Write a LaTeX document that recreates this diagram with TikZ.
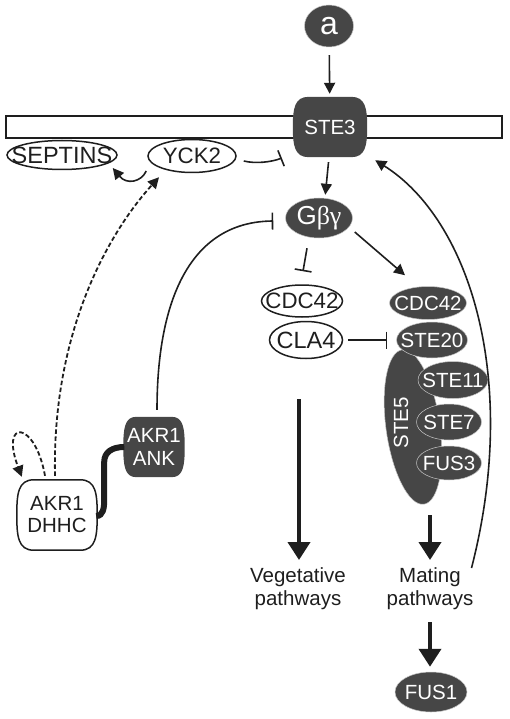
\documentclass[tikz,border=0pt]{standalone}
\usepackage{fontspec}
\setmainfont{Liberation Sans}
\newfontfamily\greekserif{Liberation Serif}
\usetikzlibrary{arrows.meta,shapes.geometric,calc,backgrounds}
\definecolor{dg}{RGB}{70,70,70}
\definecolor{ink}{RGB}{30,30,30}
\newcommand\mybarrel[4]{%
\path[#2] ($(#1.north east)+(-#4,0)$)
 .. controls ($(#1.north east)+(#3*0.6,0)$) and ($(#1.north east)!0.4!(#1.east)+(#3,0)$) .. ($(#1.east)+(#3,0)$)
 .. controls ($(#1.south east)!0.4!(#1.east)+(#3,0)$) and ($(#1.south east)+(#3*0.6,0)$) .. ($(#1.south east)+(-#4,0)$)
 -- ($(#1.south west)+(#4,0)$)
 .. controls ($(#1.south west)+(-#3*0.6,0)$) and ($(#1.south west)!0.4!(#1.west)+(-#3,0)$) .. ($(#1.west)+(-#3,0)$)
 .. controls ($(#1.north west)!0.4!(#1.west)+(-#3,0)$) and ($(#1.north west)+(-#3*0.6,0)$) .. ($(#1.north west)+(#4,0)$)
 -- cycle;}
\tikzset{
 lab/.style={font=\fontsize{20.5}{23}\selectfont, align=center, inner sep=0pt, text=ink},
 ell/.style={lab, ellipse, inner xsep=-30pt, inner ysep=-12pt},
 dk/.style={ell, fill=dg, text=white, draw=white!70!dg, line width=0.5pt},
 lt/.style={ell, draw=ink, line width=1.5pt, font=\fontsize{22.3}{23}\selectfont},
 bx/.style={lab, rectangle},
 conn/.style={line width=1.6pt, draw=ink},
 arr/.style={conn, -{Triangle[length=11pt,width=11pt]}},
 inh/.style={conn, -{Bar[width=17pt,line width=1.6pt]}},
 dsh/.style={arr, line width=1.8pt, dash pattern=on 4.5pt off 2.5pt},
 big/.style={line width=4pt, draw=ink, -{Triangle[length=18pt,width=22pt]}},
}
\begin{document}
\begin{tikzpicture}[x=1pt,y=-1pt]
\useasboundingbox (0,0) rectangle (509,719);
% nodes
\node[dk, minimum width=49pt, minimum height=42pt, font=\fontsize{32}{32}\selectfont] (a) at (329,26) {a};
\node[bx, text=white, minimum width=66pt, minimum height=60pt] (ste3) at (330,127) {STE3};
\node[lt, minimum width=110pt, minimum height=29pt, font=\fontsize{23.5}{24}\selectfont] (sept) at (62,155) {SEPTINS};
\node[lt, minimum width=88pt, minimum height=33pt] (yck2) at (192,156) {YCK2};
\node[dk, minimum width=67pt, minimum height=40pt, font=\fontsize{26}{26}\selectfont] (gbg) at (319,218) {G{\greekserif βγ}};
\node[lt, minimum width=81pt, minimum height=32pt] (cdcw) at (302,301) {CDC42};
\node[lt, minimum width=73pt, minimum height=37pt, font=\fontsize{23.5}{24}\selectfont] (cla4) at (306,340) {CLA4};
\node[dk, minimum width=77pt, minimum height=33pt] (cdcd) at (428,303) {CDC42};
\node[dk, minimum width=156pt, minimum height=54pt, rotate=98] (ste5) at (413,427) {};
\node[lab, text=white, rotate=90] (ste5t) at (401,423) {STE5};
\node[dk, minimum width=71pt, minimum height=36pt] (ste20) at (432,340) {STE20};
\node[dk, minimum width=70pt, minimum height=37pt] (ste11) at (453,380) {STE11};
\node[dk, minimum width=65pt, minimum height=36pt] (ste7) at (449,422) {STE7};
\node[dk, minimum width=65pt, minimum height=34pt] (fus3) at (449,463) {FUS3};
\node[bx, text=white, minimum width=55pt, minimum height=60pt] (ank) at (154,447) {AKR1\\ANK};
\node[bx, minimum width=74pt, minimum height=70pt, font=\fontsize{20.5}{22}\selectfont] (dhhc) at (57,515) {AKR1\\DHHC};
\node[lab] (veg) at (298,589) {Vegetative\\pathways};
\node[lab] (mate) at (430,589) {Mating\\pathways};
\node[dk, minimum width=72pt, minimum height=40pt] (fus1) at (431,692) {FUS1};
% background shapes
\begin{pgfonlayer}{background}
\draw[line width=1.5pt, draw=ink] (6,116) rectangle (502,138);
\mybarrel{ste3}{fill=dg}{4}{12}
\mybarrel{ank}{fill=dg}{3}{10}
\mybarrel{dhhc}{fill=white, draw=ink, line width=1.5pt}{3}{14}
\end{pgfonlayer}
% connectors
\draw[arr, shorten <=8pt, shorten >=3pt] (a) -- (ste3);
\draw[arr, shorten <=5pt, shorten >=3pt] ([xshift=-1pt]ste3.south) -- ([xshift=6pt]gbg.north);
\draw[inh] ($(yck2.east)+(7,5)$) .. controls +(12,3) and +(-10,4) .. ($(ste3.west)+(-15,31)$);
\draw[arr] ($(yck2.west)+(-1,15)$) .. controls +(-5,11) and +(14,17) .. ($(sept.east)+(-5,13)$);
\draw[arr] ($(gbg.east)+(2,14)$) -- ($(cdcd.north)+(-23,-11)$);
\draw[inh] ($(gbg.south)+(-12,10)$) -- ($(cdcw.north)+(1,-13)$);
\draw[inh] ($(cla4.east)+(5,0)$) -- ($(ste20.west)+(-9,0)$);
\draw[inh] ($(ank.north)+(3,-7)$) .. controls +(0,-110) and +(-83,1) .. ($(gbg.west)+(-12,3)$);
\draw[dsh] ($(dhhc.north)+(-2,-4)$) .. controls +(-3,-146) and +(-49,54) .. ($(yck2.south)+(-33,4)$);
\draw[dsh] ($(dhhc.north)+(-12,-4)$) .. controls +(-10,-56) and +(-22,-58) .. ($(dhhc.north west)+(2,-3)$);
\draw[line width=6pt, draw=ink] ($(dhhc.east)+(2,1)$) .. controls +(7,0) and +(0,8) .. ++(8,-16) -- ++(0,-38) .. controls +(0,-10) and +(-12,0) .. ($(ank.west)+(-2,0)$);
\coordinate (vegtop) at (299,399);
\coordinate (matetop) at (430,515);
\draw[big] (vegtop) -- (vegtop |- 0,560);
\draw[big] (matetop) -- (matetop |- 0,560);
\draw[big] (430,622) -- ($(fus1.north)+(-1,-5)$);
\draw[arr] ($(mate.east)+(-2,-21)$) .. controls (520,380) and (470,220) .. ($(ste3.south east)+(12,3)$);
\end{tikzpicture}
\end{document}
